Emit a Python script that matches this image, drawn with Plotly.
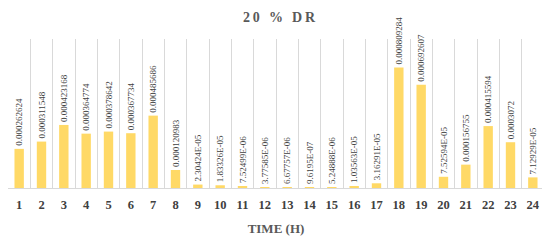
import plotly.graph_objects as go

hours = list(range(1, 25))
values = [0.000262624, 0.000311548, 0.000423168, 0.000364774, 0.000378642,
          0.000367734, 0.000485686, 0.000120983, 2.30424e-05, 1.83326e-05,
          7.52499e-06, 3.77585e-06, 6.67757e-06, 9.6195e-07, 5.24888e-06,
          1.03563e-05, 3.16291e-05, 0.000809284, 0.000692607, 7.52594e-05,
          0.000156755, 0.000415594, 0.0003072, 7.12929e-05]
labels = ["0.000262624", "0.000311548", "0.000423168", "0.000364774", "0.000378642",
          "0.000367734", "0.000485686", "0.000120983", "2.30424E-05", "1.83326E-05",
          "7.52499E-06", "3.77585E-06", "6.67757E-06", "9.6195E-07", "5.24888E-06",
          "1.03563E-05", "3.16291E-05", "0.000809284", "0.000692607", "7.52594E-05",
          "0.000156755", "0.000415594", "0.0003072", "7.12929E-05"]
title_text = "2\u20090\u2009 \u2009%\u2009 \u2009D\u2009R"

serif = "Liberation Serif, Times New Roman, serif"

fig = go.Figure(go.Bar(
    x=hours, y=values, text=labels,
    textposition="outside", textangle=-90, constraintext="none",
    textfont=dict(family=serif, size=9, color="#404040"),
    marker=dict(color="#FFD966", line=dict(width=0)),
    cliponaxis=False,
))

fig.update_layout(
    width=542, height=234,
    margin=dict(l=0, r=6, t=31, b=54, autoexpand=False),
    paper_bgcolor="white", plot_bgcolor="white",
    bargap=0.58,
    showlegend=False,
    title=dict(text=f"<b>{title_text}</b>",
               x=0.5, xanchor="center", y=0.963, yanchor="middle",
               font=dict(family=serif, size=14, color="#595959")),
    xaxis=dict(
        range=[0.5, 24.5], tickmode="array", tickvals=hours, automargin=False,
        ticktext=[f"<b>{h}</b>" for h in hours],
        tickfont=dict(family=serif, size=12.5, color="#404040"),
        ticklabelstandoff=5,
        showgrid=False, zeroline=False, ticks="",
        showline=True, linecolor="#d9d9d9", linewidth=1,
        minor=dict(tickvals=[h + 0.5 for h in range(0, 25)], showgrid=True,
                   gridcolor="#d9d9d9", gridwidth=1, ticks=""),
        title=dict(text="<b>TIME (H)</b>", font=dict(family=serif, size=13, color="#595959"),
                   standoff=12),
    ),
    yaxis=dict(range=[0, 0.001], visible=False, showgrid=False, zeroline=False,
               automargin=False),
)

fig.write_html("out.html")
